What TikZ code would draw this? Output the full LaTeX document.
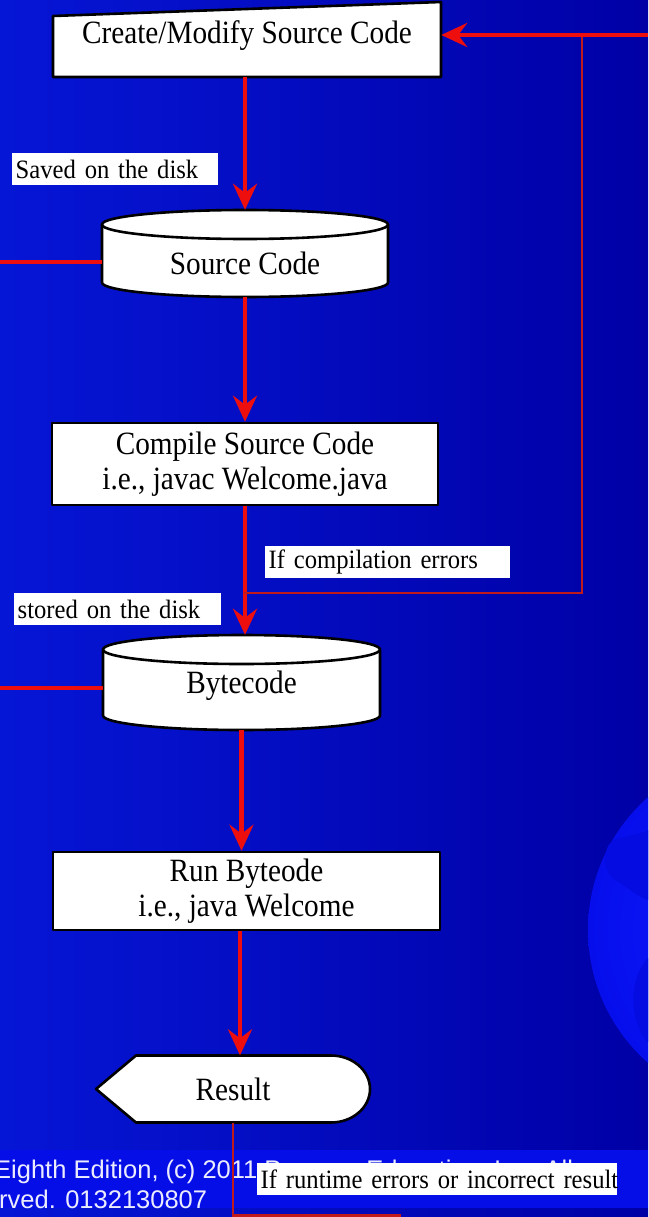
\documentclass[tikz,border=0pt]{standalone}
\usepackage{fontspec}
\setmainfont{Liberation Serif}
\newfontfamily\boxserif[FakeStretch=0.9]{Liberation Serif}
\newfontfamily\lblserif[FakeStretch=0.93]{Liberation Serif}
\newfontfamily\footfont{Liberation Sans}
\usetikzlibrary{arrows.meta,calc}

\definecolor{bgleft}{RGB}{6,22,214}
\definecolor{bgright}{RGB}{0,0,165}
\definecolor{bandblue}{RGB}{6,14,232}
\definecolor{globein}{RGB}{16,28,255}
\definecolor{globeout}{RGB}{6,14,236}
\definecolor{continent}{RGB}{4,12,226}
\definecolor{flowred}{RGB}{238,14,14}
\definecolor{thinred}{RGB}{192,26,26}
\definecolor{foottext}{RGB}{236,236,255}

\newcommand\boxfont{\boxserif\fontsize{32.5}{35}\selectfont}
\newcommand\lblfont{\lblserif\fontsize{26.5}{30}\selectfont}

\tikzset{
  flow/.style={draw=flowred, line width=4.5pt, -{Stealth[length=26pt,width=24pt,inset=9pt]}},
  flowline/.style={draw=flowred, line width=4.5pt},
  loopline/.style={draw=thinred, line width=2.2pt},
  outline/.style={draw=black, line width=2.6pt, fill=white, line join=round},
  stepbox/.style={outline, align=center, font=\boxfont, inner sep=0pt},
  anchorbox/.style={draw=none, inner sep=0pt},
  boxtext/.style={font=\boxfont, inner sep=0pt},
  lbl/.style={fill=white, font=\lblfont, anchor=north west, inner xsep=3.5pt,
              inner ysep=0pt, minimum height=32pt, align=left},
  foot/.style={font=\footfont\fontsize{25.5}{30}\selectfont, text=foottext, inner sep=0pt, anchor=base west},
}

\begin{document}
\begin{tikzpicture}[x=1pt,y=1pt]
\useasboundingbox (0,0) rectangle (648,-1217);
\clip (0,0) rectangle (648,-1217);

% slide background
\shade[left color=bgleft, right color=bgright] (0,0) rectangle (648,-1217);
\fill[bandblue] (0,-1150) rectangle (648,-1208);

% globe on the right
\shade[inner color=globein, outer color=globeout] (765,-930) circle[radius=177];
\fill[continent] (608,-846) .. controls (616,-834) and (632,-838) .. (648,-830)
  -- (648,-900) .. controls (636,-896) and (626,-886) .. (615,-880)
  .. controls (604,-872) and (603,-858) .. cycle;
\fill[continent] (648,-958) .. controls (638,-968) and (631,-988) .. (634,-1010)
  .. controls (637,-1028) and (643,-1038) .. (648,-1042) -- cycle;

% footer
\node[foot] (foot1) at (-6,-1178) {Eighth Edition, (c) 2011 Pearson Education, Inc. All};
\node[foot] (foot2) at (-1,-1208) {rved. 0132130807};

% Create/Modify step (manual input shape)
\draw[outline] (53,-16) -- (441,-2) -- (441,-77) -- (53,-77) -- cycle;
\node[anchorbox, minimum width=388pt, minimum height=75pt] (create) at (247,-39.5) {};
\node[boxtext] (createtxt) at (247,-36) {Create/Modify Source Code};

% Source Code store
\draw[outline] (102,-224.5) -- (102,-282.5)
  arc[start angle=180, end angle=360, x radius=143, y radius=14.5]
  -- (388,-224.5) arc[start angle=0, end angle=180, x radius=143, y radius=14.5] -- cycle;
\draw[draw=black, line width=2.6pt] (102,-224.5)
  arc[start angle=180, end angle=360, x radius=143, y radius=14.5];
\node[anchorbox, minimum width=286pt, minimum height=87pt] (src) at (245,-253.5) {};
\node[boxtext] (srctxt) at (245,-263) {Source Code};

% Compile step
\node[stepbox, minimum width=386pt, minimum height=82pt] (compile) at (245,-464)
  {Compile Source Code\\i.e., javac Welcome.java};

% Bytecode store
\draw[outline] (103,-649.5) -- (103,-715.5)
  arc[start angle=180, end angle=360, x radius=138.5, y radius=14.5]
  -- (380,-649.5) arc[start angle=0, end angle=180, x radius=138.5, y radius=14.5] -- cycle;
\draw[draw=black, line width=2.6pt] (103,-649.5)
  arc[start angle=180, end angle=360, x radius=138.5, y radius=14.5];
\node[anchorbox, minimum width=277pt, minimum height=95pt] (byte) at (241.5,-682.5) {};
\node[boxtext] (bytetxt) at (241.5,-686) {Bytecode};

% Run step
\node[stepbox, minimum width=387pt, minimum height=78pt] (run) at (246.5,-891)
  {Run Byteode\\i.e., java Welcome};

% Result (display shape)
\draw[outline] (96,-1089) -- (136,-1055.5) -- (331,-1055.5)
  arc[start angle=90, end angle=-90, x radius=39, y radius=33.5]
  -- (136,-1122.5) -- cycle;
\node[anchorbox, font=\boxfont, minimum width=274pt, minimum height=67pt] (result) at (233,-1089) {Result};

% free ends of the connectors
\coordinate (srcleft) at (0,-262);
\coordinate (byteleft) at (0,-688);
\coordinate (rightin) at (648,-35);
\coordinate (loopx) at (582,-35);
\coordinate (cej) at (244,-593);
\coordinate (loopout) at (401,-1215.5);

% main flow
\draw[flow] (src.north |- create.south) -- (src.north);
\draw[flow] (src.south) -- (compile.north);
\draw[flow] (compile.south) -- (compile.south |- byte.north);
\draw[flow] (byte.south) -- (byte.south |- run.north);
\draw[flow] ($(result.north |- run.south)+(7,0)$) -- ($(result.north)+(7,0)$);

% lines entering from the left
\draw[flowline] (srcleft) -- (srcleft -| src.west);
\draw[flowline] (byteleft) -- (byteleft -| byte.west);

% feedback loops
\draw[loopline] (cej) -| (loopx);
\draw[flow] (rightin) -- (rightin -| create.east);
\draw[loopline] (result.south) -- (result.south |- loopout) -- (loopout);

% labels
\node[lbl, text width=199pt] (saved) at (12,-153) {\mbox{Saved on the disk}};
\node[lbl, text width=238pt] (cerr) at (265,-546) {\mbox{If compilation errors}};
\node[lbl, text width=200pt] (stored) at (14,-593) {\mbox{stored on the disk}};
\node[lbl, text width=353pt] (rerr) at (257,-1163) {\mbox{If runtime errors or incorrect result}};
\end{tikzpicture}
\end{document}
